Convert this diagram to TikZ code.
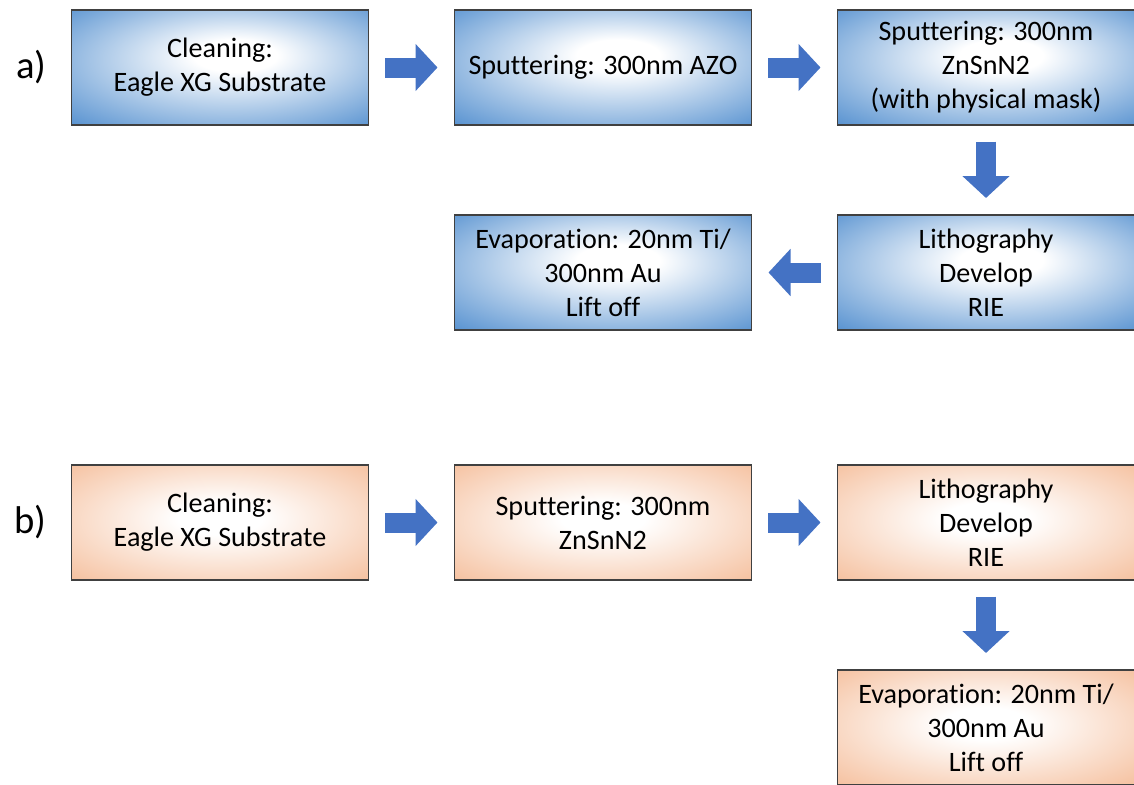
\documentclass[tikz,border=0pt]{standalone}
\usepackage{fontspec}
\setmainfont[Ligatures=NoCommon]{Carlito}
\usepackage{xcolor}
\usepackage{tikz}
\usetikzlibrary{positioning,arrows.meta}

\definecolor{edgeblue}{RGB}{72,136,204}
\definecolor{deepblue}{RGB}{50,110,180}
\definecolor{edgepeach}{RGB}{244,184,146}
\definecolor{deeppeach}{RGB}{236,164,120}
\definecolor{arrowblue}{RGB}{68,114,196}
\pgfdeclareradialshading{blueglow}{\pgfpoint{3bp}{6bp}}{color(0bp)=(white); color(7bp)=(white); color(40bp)=(edgeblue); color(50bp)=(deepblue)}
\pgfdeclareradialshading{peachglow}{\pgfpoint{0bp}{2bp}}{color(0bp)=(white); color(7bp)=(white); color(40bp)=(edgepeach); color(50bp)=(deeppeach)}

\begin{document}
\begin{tikzpicture}[node distance=1.8cm and 1.72cm,
stepbox/.style={draw=black!75, line width=0.7pt, minimum width=5.94cm, minimum height=2.3cm,
  inner sep=2pt, outer sep=0pt, align=center, font=\fontsize{16}{19.3}\selectfont},
blueproc/.style={stepbox, shading=blueglow},
peachproc/.style={stepbox, shading=peachglow},
tag/.style={font=\fontsize{22}{26}\selectfont},
flow/.style={draw=arrowblue, line width=0.4cm, shorten <=0.33cm, shorten >=0.34cm,
  -{Triangle[length=0.44cm,width=0.92cm]}}]
\useasboundingbox (0,0) rectangle (22.68,-15.7);

\node[blueproc] (a1) at (4.4,-1.35) {Cleaning:\\Eagle XG Substrate};
\node[blueproc, right=of a1] (a2) {Sputtering: 300nm AZO};
\node[blueproc, right=of a2] (a3) {Sputtering: 300nm\\ZnSnN2\\(with physical mask)};
\node[blueproc, below=of a3] (a5) {Lithography\\Develop\\RIE};
\node[blueproc, left=of a5] (a4) {Evaporation: 20nm Ti/\\300nm Au\\Lift off};
\node[tag, left=0.38cm of a1] (taga) {a)};

\node[peachproc] (b1) at (4.4,-10.45) {Cleaning:\\Eagle XG Substrate};
\node[peachproc, right=of b1] (b2) {Sputtering: 300nm\\ZnSnN2};
\node[peachproc, right=of b2] (b3) {Lithography\\Develop\\RIE};
\node[peachproc, below=of b3] (b4) {Evaporation: 20nm Ti/\\300nm Au\\Lift off};
\node[tag, left=0.38cm of b1] (tagb) {b)};

\draw[flow] (a1) -- (a2);
\draw[flow] (a2) -- (a3);
\draw[flow] (a3) -- (a5);
\draw[flow] (a5) -- (a4);
\draw[flow] (b1) -- (b2);
\draw[flow] (b2) -- (b3);
\draw[flow] (b3) -- (b4);
\end{tikzpicture}
\end{document}
